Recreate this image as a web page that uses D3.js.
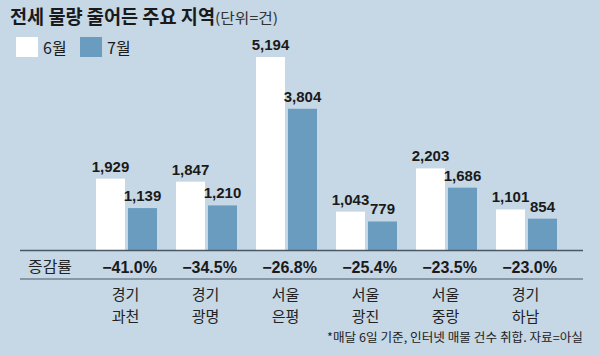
<!DOCTYPE html>
<html><head><meta charset="utf-8">
<script src="https://cdn.jsdelivr.net/npm/d3@7"></script>
<style>
html,body{margin:0;padding:0;background:#c6d7e5;}
svg{display:block;}
.kr{font-family:"Noto Sans CJK KR","Noto Sans",sans-serif;}
.num{font-family:"Liberation Sans",Arial,sans-serif;font-weight:bold;}
</style></head>
<body>
<svg id="c" width="600" height="356"></svg>
<script>
const regionTop = ["경기","경기","서울","서울","서울","경기"];
const regionBottom = ["과천","광명","은평","광진","중랑","하남"];
const june = [1929, 1847, 5194, 1043, 2203, 1101];
const july = [1139, 1210, 3804, 779, 1686, 854];
const changeLabels = ["−41.0%","−34.5%","−26.8%","−25.4%","−23.5%","−23.0%"];
const seriesNames = ["6월","7월"];
const colors = ["#ffffff","#6a9cc0"];

const svg = d3.select("#c");
const W = 600, H = 356;
svg.append("rect").attr("width",W).attr("height",H).attr("fill","#c6d7e5");

const x0 = d3.scaleBand().domain(d3.range(june.length)).range([86.5, 566.5]).padding(0);
const x1 = d3.scaleBand().domain(seriesNames).range([9.5, 70.5]).paddingInner(3/32).paddingOuter(0);
const y = d3.scaleLinear().domain([0, 5194]).range([250.5, 57]);

const data = june.map((v,i)=>({i, vals:[{s:"6월",v:v},{s:"7월",v:july[i]}]}));

const g = svg.selectAll("g.grp").data(data).enter().append("g")
  .attr("transform", d=>`translate(${x0(d.i)},0)`);

g.selectAll("rect").data(d=>d.vals).enter().append("rect")
  .attr("x", d=>x1(d.s)).attr("width", x1.bandwidth())
  .attr("y", d=>y(d.v)).attr("height", d=>y(0)-y(d.v))
  .attr("fill", (d,j)=>colors[j]);

g.selectAll("text.val").data(d=>d.vals).enter().append("text")
  .attr("class","num")
  .attr("x", d=>x1(d.s)+x1.bandwidth()/2).attr("y", d=>y(d.v)-7)
  .attr("text-anchor","middle").attr("font-size",15).attr("fill","#1a1a1a")
  .text(d=>d3.format(",")(d.v));

// lines
svg.append("line").attr("x1",20).attr("x2",583).attr("y1",250.5).attr("y2",250.5)
  .attr("stroke","#4a5866").attr("stroke-width",1.6);
svg.append("line").attr("x1",20).attr("x2",583).attr("y1",279).attr("y2",279)
  .attr("stroke","#4a5866").attr("stroke-width",1.2);

svg.append("text").attr("class","kr").attr("x",28).attr("y",272)
  .attr("font-size",15).attr("fill","#222").attr("textLength",44).attr("lengthAdjust","spacingAndGlyphs").text("증감률");

svg.selectAll("text.chg").data(changeLabels).enter().append("text")
  .attr("class","num").attr("x",(d,i)=>x0(i)+x0.bandwidth()/2+3).attr("y",272.5)
  .attr("text-anchor","middle").attr("font-size",16).attr("fill","#1a1a1a").text(d=>d);

const cat = svg.selectAll("text.cat").data(regionTop).enter().append("text")
  .attr("class","kr").attr("font-size",15).attr("fill","#222").attr("text-anchor","middle");
cat.append("tspan").attr("x",(d,i)=>x0(i)+x0.bandwidth()/2-1).attr("y",300).text(d=>d);
cat.append("tspan").attr("x",(d,i)=>x0(i)+x0.bandwidth()/2-1).attr("y",322).text((d,i)=>regionBottom[i]);

// title
svg.append("text").attr("class","kr").attr("x",10).attr("y",24)
  .attr("font-size",19).attr("font-weight","bold").attr("fill","#1a1a1a")
  .attr("textLength",205).attr("lengthAdjust","spacingAndGlyphs").text("전세 물량 줄어든 주요 지역");
svg.append("text").attr("class","kr").attr("x",215).attr("y",23)
  .attr("font-size",14).attr("fill","#333")
  .attr("textLength",63).attr("lengthAdjust","spacingAndGlyphs").text("(단위=건)");

// legend
const lg = svg.selectAll("g.lg").data(seriesNames).enter().append("g")
  .attr("transform",(d,i)=>`translate(${16+i*64},37)`);
lg.append("rect").attr("width",22).attr("height",20).attr("fill",(d,i)=>colors[i]);
lg.append("text").attr("class","kr").attr("x",27).attr("y",17).attr("font-size",16)
  .attr("fill","#1a1a1a").text(d=>d);

// footnote
svg.append("text").attr("class","kr").attr("x",583).attr("y",342)
  .attr("text-anchor","end").attr("font-size",12).attr("fill","#222")
  .attr("textLength",256).attr("lengthAdjust","spacingAndGlyphs")
  .text("*매달 6일 기준, 인터넷 매물 건수 취합. 자료=아실");
</script>
</body></html>
